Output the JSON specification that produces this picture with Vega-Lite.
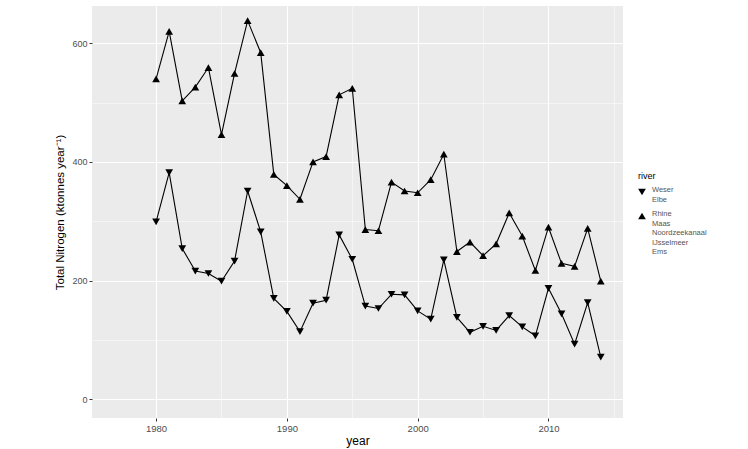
{
  "$schema": "https://vega.github.io/schema/vega-lite/v6.json",
  "width": 531,
  "height": 412,
  "autosize": "none",
  "padding": {"left": 92, "top": 6, "right": 125, "bottom": 31},
  "background": "white",
  "config": {
    "view": {"fill": "#EBEBEB", "stroke": null},
    "font": "Liberation Sans",
    "axis": {"domain": false, "gridColor": "white", "tickColor": "#333333", "labelColor": "#4D4D4D", "titleColor": "black", "titleFontWeight": "normal"}
  },
  "data": {"values": [
    {"year":1980,"value":540,"river":"up"},{"year":1981,"value":620,"river":"up"},{"year":1982,"value":503,"river":"up"},{"year":1983,"value":526,"river":"up"},{"year":1984,"value":559,"river":"up"},{"year":1985,"value":446,"river":"up"},{"year":1986,"value":549,"river":"up"},{"year":1987,"value":638,"river":"up"},{"year":1988,"value":584,"river":"up"},{"year":1989,"value":379,"river":"up"},{"year":1990,"value":360,"river":"up"},{"year":1991,"value":337,"river":"up"},{"year":1992,"value":400,"river":"up"},{"year":1993,"value":409,"river":"up"},{"year":1994,"value":513,"river":"up"},{"year":1995,"value":524,"river":"up"},{"year":1996,"value":286,"river":"up"},{"year":1997,"value":284,"river":"up"},{"year":1998,"value":366,"river":"up"},{"year":1999,"value":351,"river":"up"},{"year":2000,"value":348,"river":"up"},{"year":2001,"value":370,"river":"up"},{"year":2002,"value":413,"river":"up"},{"year":2003,"value":249,"river":"up"},{"year":2004,"value":265,"river":"up"},{"year":2005,"value":242,"river":"up"},{"year":2006,"value":262,"river":"up"},{"year":2007,"value":314,"river":"up"},{"year":2008,"value":275,"river":"up"},{"year":2009,"value":217,"river":"up"},{"year":2010,"value":290,"river":"up"},{"year":2011,"value":229,"river":"up"},{"year":2012,"value":224,"river":"up"},{"year":2013,"value":288,"river":"up"},{"year":2014,"value":199,"river":"up"},
    {"year":1980,"value":299,"river":"down"},{"year":1981,"value":382,"river":"down"},{"year":1982,"value":254,"river":"down"},{"year":1983,"value":216,"river":"down"},{"year":1984,"value":212,"river":"down"},{"year":1985,"value":199,"river":"down"},{"year":1986,"value":233,"river":"down"},{"year":1987,"value":351,"river":"down"},{"year":1988,"value":282,"river":"down"},{"year":1989,"value":170,"river":"down"},{"year":1990,"value":148,"river":"down"},{"year":1991,"value":114,"river":"down"},{"year":1992,"value":162,"river":"down"},{"year":1993,"value":167,"river":"down"},{"year":1994,"value":277,"river":"down"},{"year":1995,"value":236,"river":"down"},{"year":1996,"value":157,"river":"down"},{"year":1997,"value":153,"river":"down"},{"year":1998,"value":177,"river":"down"},{"year":1999,"value":176,"river":"down"},{"year":2000,"value":149,"river":"down"},{"year":2001,"value":135,"river":"down"},{"year":2002,"value":235,"river":"down"},{"year":2003,"value":138,"river":"down"},{"year":2004,"value":113,"river":"down"},{"year":2005,"value":123,"river":"down"},{"year":2006,"value":116,"river":"down"},{"year":2007,"value":141,"river":"down"},{"year":2008,"value":122,"river":"down"},{"year":2009,"value":107,"river":"down"},{"year":2010,"value":187,"river":"down"},{"year":2011,"value":144,"river":"down"},{"year":2012,"value":93,"river":"down"},{"year":2013,"value":163,"river":"down"},{"year":2014,"value":71,"river":"down"}
  ]},
  "encoding": {
    "x": {"field": "year", "type": "quantitative",
      "scale": {"domain": [1975.1, 2015.7], "nice": false, "zero": false},
      "axis": {"title": "year", "values": [1980,1985,1990,1995,2000,2005,2010,2015],
        "labelExpr": "datum.value % 10 == 0 ? format(datum.value, 'd') : ''",
        "gridWidth": {"condition": {"test": "datum.value % 10 == 0", "value": 1.1}, "value": 0.5},
        "tickOpacity": {"condition": {"test": "datum.value % 10 == 0", "value": 1}, "value": 0},
        "tickSize": 3, "labelFontSize": 9.5, "labelPadding": 2, "titleFontSize": 12, "titlePadding": 3}},
    "y": {"field": "value", "type": "quantitative",
      "scale": {"domain": [-31.5, 662.7], "nice": false, "zero": false},
      "axis": {"title": "Total Nitrogen (ktonnes year⁻¹)", "values": [0,100,200,300,400,500,600],
        "labelExpr": "datum.value % 200 == 0 ? datum.label : ''",
        "gridWidth": {"condition": {"test": "datum.value % 200 == 0", "value": 1.1}, "value": 0.5},
        "tickOpacity": {"condition": {"test": "datum.value % 200 == 0", "value": 1}, "value": 0},
        "tickSize": 3, "labelFontSize": 9, "labelPadding": 2, "titleFontSize": 11.5, "titlePadding": 6}}
  },
  "layer": [
    {"mark": {"type": "line", "color": "black", "strokeWidth": 1.1},
     "encoding": {"detail": {"field": "river"}}},
    {"mark": {"type": "point", "filled": true, "color": "black", "size": 60, "opacity": 1},
     "encoding": {"shape": {"field": "river", "type": "nominal",
       "scale": {"domain": ["down", "up"], "range": ["triangle-down", "triangle-up"]},
       "legend": {"title": "river", "orient": "none", "legendX": 546, "legendY": 166,
         "labelExpr": "datum.value == 'down' ? ['Weser', ' Elbe'] : ['Rhine', 'Maas', 'Noordzeekanaal', 'IJsselmeer', 'Ems']",
         "labelFontSize": 7.5, "labelLineHeight": 7.4, "labelBaseline": "alphabetic", "labelColor": "#555555", "titleFontSize": 9, "titleFontWeight": "normal", "titleColor": "black",
         "symbolFillColor": "black", "symbolStrokeWidth": 0, "symbolSize": 60, "labelOffset": 6, "rowPadding": 7, "titlePadding": 7}}}}
  ]
}
